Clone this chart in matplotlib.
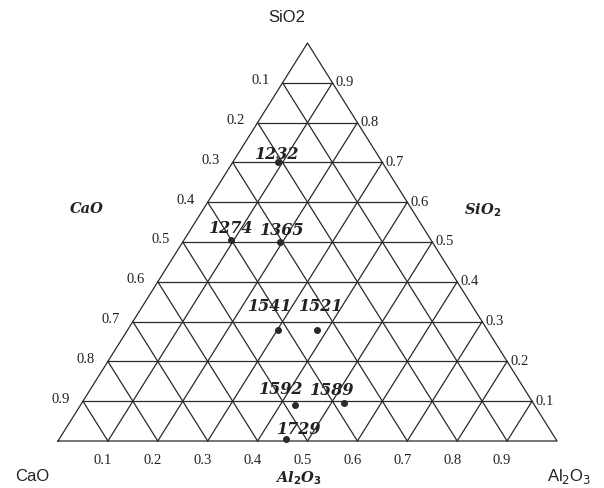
import matplotlib
matplotlib.use("Agg")
import matplotlib.pyplot as plt
import numpy as np

# ---- data ----
labels = ["1232", "1274", "1365", "1541", "1521", "1592", "1589", "1729"]
sio2 = [0.70, 0.505, 0.50, 0.28, 0.28, 0.09, 0.095, 0.005]
al2o3 = [0.09, 0.095, 0.195, 0.30, 0.38, 0.43, 0.525, 0.455]
ticks = [0.1, 0.2, 0.3, 0.4, 0.5, 0.6, 0.7, 0.8, 0.9]
tick_labels = ["0.1", "0.2", "0.3", "0.4", "0.5", "0.6", "0.7", "0.8", "0.9"]

# label offsets in pixels (dx, dy upward)
label_offsets = [(0, 9), (0, 13), (2, 12), (-7, 24), (4, 24), (-14, 17), (-11, 14), (13, 11)]

W, H = 604, 489
fig = plt.figure(figsize=(W / 100, H / 100), dpi=100)
x0, y0b, x1, ytop = 58, 442, 557, 44
ax = fig.add_axes([x0 / W, (H - y0b) / H, (x1 - x0) / W, (y0b - ytop) / H])
ax.set_xlim(0, 1)
ax.set_ylim(0, 1)
ax.axis("off")

def xy(a, s):
    return a + s / 2.0, s

lc = "#2a2a2a"
lw = 0.9
# outer triangle
ax.plot([0, 1, 0.5, 0], [0, 0, 1, 0], color=lc, lw=lw, clip_on=False)
for t in ticks:
    # constant SiO2 (horizontal)
    ax.plot([t / 2, 1 - t / 2], [t, t], color=lc, lw=lw, clip_on=False)
    # constant Al2O3
    p, q = xy(t, 0), xy(t, 1 - t)
    ax.plot([p[0], q[0]], [p[1], q[1]], color=lc, lw=lw, clip_on=False)
    # constant CaO
    p, q = xy(1 - t, 0), xy(0, 1 - t)
    ax.plot([p[0], q[0]], [p[1], q[1]], color=lc, lw=lw, clip_on=False)

serif = "Liberation Serif"
tfs = 10.5
for t, lab in zip(ticks, tick_labels):
    # left: CaO
    px, py = xy(0, 1 - t)
    ax.annotate(lab, (px, py), xytext=(-13, 3), textcoords="offset pixels",
                ha="right", va="center", fontsize=tfs, family=serif, color="#222222")
    # right: SiO2
    px, py = xy(1 - t, t)
    ax.annotate(lab, (px, py), xytext=(3, 1), textcoords="offset pixels",
                ha="left", va="center", fontsize=tfs, family=serif, color="#222222")
    # bottom: Al2O3
    px, py = xy(t, 0)
    ax.annotate(lab, (px, py), xytext=(-5, -19), textcoords="offset pixels",
                ha="center", va="center", fontsize=tfs, family=serif, color="#222222")

# data points
for lab, s, a, off in zip(labels, sio2, al2o3, label_offsets):
    px, py = xy(a, s)
    ax.plot(px, py, "o", color="#2a2a2a", ms=4, clip_on=False)
    ax.annotate(lab, (px, py), xytext=off, textcoords="offset pixels",
                ha="center", va="center", fontsize=11.5, family="DejaVu Serif",
                fontweight="bold", fontstyle="italic", color="#222222")

# corner labels (sans)
sans = "Liberation Sans"
fig.text(287 / W, 1 - 18 / H, "SiO2", ha="center", va="center", fontsize=12, family=sans, color="#222222")
fig.text(32 / W, 1 - 477 / H, "CaO", ha="center", va="center", fontsize=12, family=sans, color="#222222")
fig.text(569 / W, 1 - 477 / H, r"Al$_2$O$_3$", ha="center", va="center", fontsize=12, family=sans, color="#222222")

# axis titles (bold italic serif)
bi = dict(family="DejaVu Serif", fontweight="bold", fontstyle="italic", color="#222222", fontsize=10.5,
          ha="center", va="center")
fig.text(87 / W, 1 - 209 / H, "CaO", **bi)
fig.text(483 / W, 1 - 210 / H, r"SiO$_\mathbf{2}$", **bi)
fig.text(298 / W, 1 - 478 / H, r"Al$_\mathbf{2}$O$_\mathbf{3}$", **bi)

fig.savefig("out.png", dpi=100, facecolor="white")
